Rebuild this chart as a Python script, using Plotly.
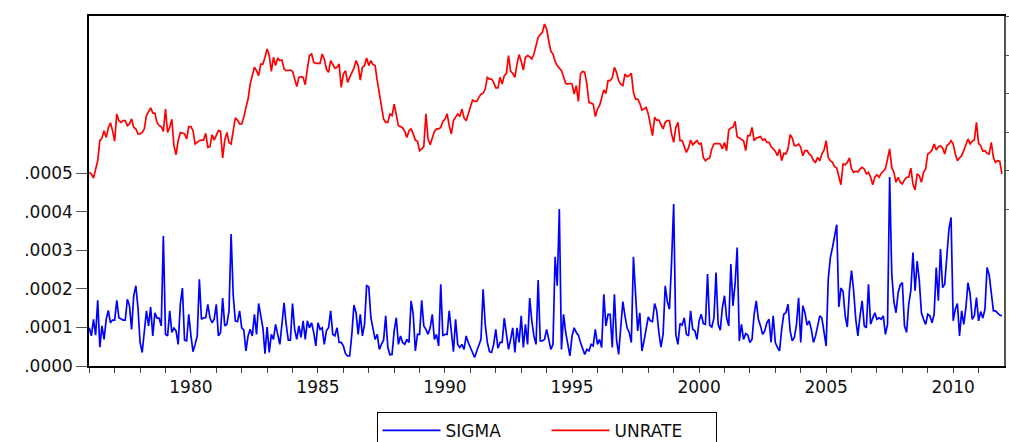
import plotly.graph_objects as go

# ---------------- data (monthly, 1976m1 - 2011m12) ----------------
years = list(range(1976, 2012))

unrate = [
    5.90, 5.82, 5.61, 6.08, 6.51, 7.55, 7.69, 8.07, 7.72, 8.21, 8.48, 8.07,   # 1976
    7.52, 8.94, 8.59, 8.50, 8.59, 8.59, 8.33, 8.42, 8.68, 8.24, 8.16, 7.90,   # 1977
    7.90, 7.98, 8.16, 8.85, 9.02, 9.25, 8.99, 8.97, 8.50, 8.33, 8.28, 8.03,   # 1978
    9.19, 7.98, 8.24, 8.66, 7.29, 6.82, 7.55, 7.97, 7.95, 7.90, 7.64, 8.28,   # 1979
    8.28, 8.07, 7.38, 7.46, 7.55, 7.58, 7.58, 7.93, 7.20, 7.24, 7.86, 7.58,   # 1980
    7.81, 8.07, 8.03, 6.65, 7.58, 7.98, 7.46, 7.38, 8.07, 8.73, 8.62, 8.42,   # 1981
    8.42, 8.76, 9.28, 9.71, 10.49, 10.93, 11.36, 11.19, 10.93, 11.53, 11.53, 11.88,  # 1982
    12.31, 11.97, 11.15, 11.88, 11.45, 11.84, 11.71, 11.74, 11.27, 11.19, 11.19, 11.22,  # 1983
    11.15, 10.75, 10.36, 10.84, 10.87, 10.84, 10.46, 11.27, 11.97, 12.05, 11.62, 11.57,  # 1984
    11.57, 11.57, 12.05, 11.79, 11.27, 11.10, 11.71, 11.53, 11.32, 11.36, 11.53, 10.32,  # 1985
    11.01, 11.19, 10.58, 10.84, 11.10, 11.32, 11.71, 11.45, 10.70, 11.36, 11.45, 11.84,  # 1986
    11.45, 11.71, 11.50, 11.45, 10.67, 9.97, 9.28, 8.68, 8.50, 8.50, 8.94, 8.85,   # 1987
    9.45, 8.85, 8.33, 8.28, 8.21, 8.03, 7.72, 8.07, 8.16, 7.90, 7.58, 7.52,   # 1988
    7.03, 7.12, 7.24, 8.94, 7.64, 7.34, 7.69, 8.03, 8.16, 8.16, 8.24, 8.55,   # 1989
    8.66, 8.94, 8.33, 7.90, 8.59, 8.76, 8.94, 8.80, 9.19, 8.73, 8.59, 8.94,   # 1990
    9.37, 9.66, 9.59, 9.59, 9.80, 9.97, 10.01, 10.23, 10.84, 10.75, 10.75, 10.58,  # 1991
    10.29, 10.29, 10.84, 10.49, 10.93, 11.05, 11.97, 11.15, 11.05, 10.84, 11.53, 12.02,  # 1992
    11.67, 11.22, 11.88, 11.97, 11.91, 11.79, 12.05, 12.57, 12.92, 13.06, 13.18, 13.61,  # 1993
    13.35, 12.74, 12.19, 12.05, 11.67, 11.45, 11.32, 11.19, 10.87, 10.53, 10.49, 10.53,  # 1994
    10.49, 9.97, 10.41, 9.59, 11.01, 11.15, 11.10, 10.49, 9.54, 9.49, 9.45, 8.80,   # 1995
    9.19, 9.37, 9.84, 10.18, 10.01, 10.67, 10.67, 10.81, 11.36, 11.10, 10.67, 10.49,  # 1996
    10.41, 11.01, 10.87, 10.93, 11.05, 10.06, 9.71, 9.71, 9.49, 9.14, 9.19, 9.28,  # 1997
    8.94, 8.33, 7.81, 8.76, 8.62, 8.62, 8.42, 8.16, 8.50, 8.59, 8.59, 7.90,   # 1998
    7.46, 8.24, 8.50, 7.55, 7.55, 7.20, 6.94, 7.17, 7.58, 7.34, 7.46, 7.55,   # 1999
    7.38, 7.41, 6.68, 6.51, 6.60, 6.65, 7.12, 7.38, 7.41, 7.41, 7.38, 7.12,   # 2000
    7.46, 7.03, 8.10, 8.21, 8.24, 8.55, 7.76, 7.69, 7.64, 7.55, 7.03, 7.81,   # 2001
    7.81, 8.24, 7.55, 7.69, 7.72, 7.76, 7.58, 7.64, 7.46, 7.46, 7.24, 7.12,   # 2002
    7.00, 6.77, 7.12, 6.51, 6.89, 6.86, 7.12, 7.86, 7.69, 7.29, 7.29, 7.38,   # 2003
    7.20, 6.77, 7.03, 7.03, 6.86, 6.77, 6.51, 6.42, 6.68, 6.51, 6.86, 7.06,   # 2004
    7.55, 6.68, 6.51, 6.42, 6.20, 6.13, 5.73, 5.26, 6.34, 6.30, 6.42, 6.65,   # 2005
    6.08, 5.90, 5.96, 5.92, 6.08, 6.16, 6.08, 5.82, 5.90, 5.65, 5.26, 5.65,   # 2006
    5.78, 5.65, 5.85, 5.99, 6.08, 6.60, 7.12, 6.16, 5.90, 5.39, 5.65, 5.39,   # 2007
    5.30, 5.51, 5.65, 5.65, 6.13, 5.30, 4.99, 5.82, 5.73, 5.39, 5.90, 6.08,   # 2008
    6.86, 6.94, 7.06, 7.38, 7.06, 7.24, 7.29, 7.17, 6.86, 7.29, 7.38, 7.55,   # 2009
    7.38, 6.86, 6.51, 6.65, 6.77, 7.03, 7.38, 7.64, 7.38, 7.52, 7.58, 8.50,   # 2010
    7.41, 7.29, 7.00, 7.03, 6.89, 6.86, 7.46, 6.68, 6.42, 6.51, 6.48, 5.82,   # 2011
]

# SIGMA in units of 1e-4
sigma_e4 = [
    0.99, 0.78, 1.21, 0.80, 1.70, 0.49, 1.04, 0.69, 1.21, 1.44, 1.12, 1.19,   # 1976
    1.19, 1.70, 1.25, 1.21, 1.19, 1.19, 1.73, 1.56, 0.95, 1.82, 2.08, 1.51,   # 1977
    0.61, 0.35, 0.95, 1.43, 1.04, 1.53, 0.78, 1.38, 1.24, 1.24, 1.04, 3.37,   # 1978
    0.82, 0.78, 1.43, 0.87, 0.98, 0.91, 0.56, 1.60, 2.02, 0.67, 0.65, 1.34,   # 1979
    0.80, 0.37, 0.56, 0.78, 2.25, 1.21, 1.25, 1.25, 1.60, 1.25, 1.12, 1.21,   # 1980
    1.60, 0.78, 0.87, 1.76, 1.04, 1.08, 1.43, 3.42, 1.82, 1.17, 1.15, 1.43,   # 1981
    0.99, 0.93, 0.39, 0.78, 0.95, 0.78, 1.34, 0.82, 1.62, 1.34, 0.99, 0.32,   # 1982
    1.01, 0.35, 0.82, 0.69, 1.08, 0.82, 0.56, 1.08, 1.64, 1.08, 0.67, 0.67,   # 1983
    1.62, 0.95, 0.69, 1.04, 0.74, 1.17, 0.69, 1.17, 0.99, 1.12, 0.87, 0.52,   # 1984
    1.12, 0.95, 0.99, 0.56, 0.91, 0.99, 1.43, 0.82, 0.78, 0.99, 0.61, 0.61,   # 1985
    0.52, 0.32, 0.26, 0.26, 0.82, 1.58, 1.38, 0.82, 1.34, 0.78, 1.08, 2.08,   # 1986
    2.05, 1.25, 0.91, 0.69, 0.82, 0.43, 0.56, 0.67, 1.30, 0.48, 0.29, 0.30,   # 1987
    0.91, 1.25, 0.56, 0.78, 0.61, 0.56, 0.69, 0.61, 1.69, 1.34, 0.39, 0.82,   # 1988
    0.82, 1.70, 1.04, 0.95, 0.82, 0.99, 1.34, 0.69, 0.82, 0.52, 2.12, 0.78,   # 1989
    0.82, 0.82, 1.43, 0.87, 0.37, 1.21, 0.56, 0.48, 0.56, 0.43, 0.78, 0.61,   # 1990
    0.48, 0.30, 0.22, 0.39, 0.56, 0.69, 1.99, 1.08, 0.61, 0.37, 0.35, 0.56,   # 1991
    0.95, 0.46, 0.61, 0.61, 1.24, 0.82, 0.43, 0.69, 0.99, 0.35, 0.99, 0.61,   # 1992
    1.30, 0.48, 1.08, 0.56, 1.76, 1.17, 0.78, 0.56, 2.23, 0.65, 0.65, 0.69,   # 1993
    0.95, 0.69, 0.43, 0.56, 2.83, 2.08, 4.07, 0.43, 1.34, 0.87, 0.56, 0.26,   # 1994
    0.78, 0.99, 0.87, 0.80, 0.61, 0.48, 0.30, 0.43, 0.39, 0.56, 0.52, 0.95,   # 1995
    0.56, 0.69, 0.48, 1.86, 1.04, 1.34, 1.34, 0.48, 1.86, 0.69, 0.30, 0.99,   # 1996
    1.67, 1.30, 0.99, 0.87, 0.61, 2.83, 1.86, 0.91, 1.38, 0.39, 0.65, 0.99,   # 1997
    1.27, 1.17, 1.15, 1.62, 1.43, 0.87, 0.49, 0.82, 2.08, 1.67, 1.47, 2.68,   # 1998
    4.20, 0.82, 0.56, 1.10, 1.06, 1.25, 0.82, 0.78, 1.43, 0.95, 0.91, 0.69,   # 1999
    1.17, 1.34, 1.10, 1.08, 2.38, 1.06, 1.01, 1.24, 2.42, 1.08, 0.93, 1.51,   # 2000
    1.82, 1.25, 1.04, 2.64, 1.56, 2.12, 3.07, 0.65, 1.08, 0.69, 0.84, 0.80,   # 2001
    0.61, 0.69, 1.34, 1.69, 1.21, 1.04, 0.82, 0.91, 1.12, 1.21, 0.61, 1.30,   # 2002
    0.61, 0.48, 0.39, 0.95, 1.34, 1.38, 1.60, 0.91, 0.65, 0.74, 1.08, 1.77,   # 2003
    0.61, 1.56, 1.38, 1.06, 1.17, 0.95, 0.61, 0.78, 1.04, 1.30, 1.24, 0.82,   # 2004
    0.52, 2.25, 2.81, 3.07, 3.37, 3.66, 1.53, 2.02, 1.93, 1.30, 1.01, 1.95,   # 2005
    2.47, 1.95, 1.21, 0.78, 1.30, 1.69, 1.04, 0.99, 2.12, 1.08, 1.24, 1.38,   # 2006
    1.21, 1.25, 1.21, 1.30, 0.82, 1.08, 4.90, 2.38, 1.67, 1.38, 1.90, 2.10,   # 2007
    2.16, 1.04, 0.87, 1.60, 1.95, 2.94, 1.95, 2.72, 2.21, 1.38, 1.21, 1.08,   # 2008
    1.34, 1.30, 1.12, 1.34, 2.55, 1.69, 3.03, 2.03, 2.12, 2.90, 3.55, 3.85,   # 2009
    1.17, 1.47, 1.62, 0.78, 1.43, 1.08, 1.51, 2.16, 1.86, 1.21, 1.30, 1.77,   # 2010
    1.17, 1.41, 1.24, 1.47, 2.55, 2.36, 1.86, 1.43, 1.43, 1.36, 1.32, 1.30,   # 2011
]

x_tick_years = list(range(1976, 2012))
x_tick_labels = [str(y) if y % 5 == 0 else "" for y in x_tick_years]
left_tick_values = [0.0, 0.0001, 0.0002, 0.0003, 0.0004, 0.0005]
left_tick_labels = [".0000", ".0001", ".0002", ".0003", ".0004", ".0005"]
right_tick_values = [4, 6, 8, 10, 12, 14]

# ---------------- build ----------------
dates = [y + m / 12.0 for y in years for m in range(12)]
sigma = [v * 1e-4 for v in sigma_e4]

FONT = dict(family="DejaVu Sans, Arial, sans-serif", size=17, color="#111111")

fig = go.Figure()
fig.add_trace(go.Scatter(x=dates, y=sigma, mode="lines", name="SIGMA",
                         line=dict(color="#0000FF", width=1.7), yaxis="y"))
fig.add_trace(go.Scatter(x=dates, y=unrate, mode="lines", name="UNRATE",
                         line=dict(color="#FF0000", width=1.7), yaxis="y2"))

fig.update_layout(
    width=1009, height=442,
    margin=dict(l=89, r=5, t=16, b=76, autoexpand=False),
    paper_bgcolor="white", plot_bgcolor="white",
    font=FONT,
    showlegend=True,
    legend=dict(orientation="h", x=0.5, xanchor="center", y=-0.131, yanchor="top",
                bordercolor="#000000", borderwidth=1, bgcolor="white",
                font=FONT, entrywidth=96, entrywidthmode="pixels",
                itemwidth=58, traceorder="normal"),
    xaxis=dict(range=[1975.99, 2012.0], tickmode="array", tickvals=x_tick_years,
               ticktext=x_tick_labels, ticks="outside", ticklen=5, tickwidth=1,
               tickcolor="#444444", showline=True, linecolor="#000000", linewidth=1.5,
               mirror=True, showgrid=False, zeroline=False, tickfont=FONT),
    yaxis=dict(range=[0, 0.000907], tickmode="array", tickvals=left_tick_values,
               ticktext=left_tick_labels, ticks="outside", ticklen=11, tickwidth=1,
               tickcolor="#555555", showline=True, linecolor="#000000", linewidth=1.5,
               showgrid=False, zeroline=False, tickfont=FONT),
    yaxis2=dict(range=[-4.156, 14.026], overlaying="y", side="right", tickmode="array",
                tickvals=right_tick_values, showticklabels=False, ticks="outside",
                ticklen=4, tickwidth=1, tickcolor="#555555", showline=True,
                linecolor="#555555", linewidth=2, showgrid=False, zeroline=False),
)

fig.write_html("out.html")
